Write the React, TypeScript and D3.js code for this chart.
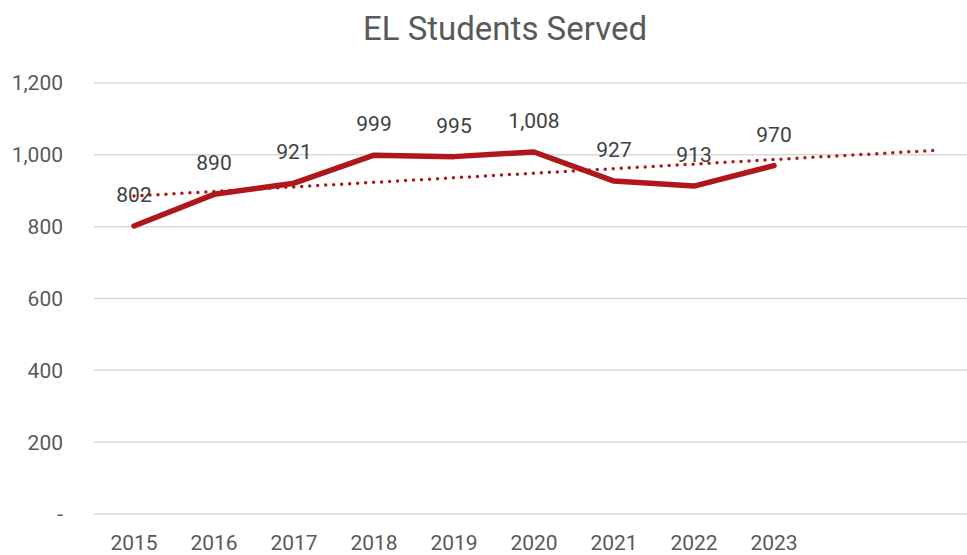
import { useEffect, useRef } from "react";
import * as d3 from "d3";

const years = ["2015", "2016", "2017", "2018", "2019", "2020", "2021", "2022", "2023", "", " "];
const students = [802, 890, 921, 999, 995, 1008, 927, 913, 970];
const yTicks = [0, 200, 400, 600, 800, 1000, 1200];

const RED = "#B0171B";
const TEXT = "#404040";
const AXIS_TEXT = "#595959";
const FONT = "Roboto, 'Open Sans', sans-serif";

export default function App() {
  const ref = useRef<SVGSVGElement>(null);

  useEffect(() => {
    const width = 967;
    const height = 555;
    const margin = { top: 83, right: -7, bottom: 41, left: 94 };
    const innerWidth = width - margin.left - margin.right;
    const innerHeight = height - margin.top - margin.bottom;

    const svg = d3.select(ref.current);
    svg.selectAll("*").remove();

    svg
      .append("text")
      .attr("x", 505)
      .attr("y", 40)
      .attr("text-anchor", "middle")
      .attr("font-family", FONT)
      .attr("font-size", 33)
      .attr("fill", AXIS_TEXT)
      .text("EL Students Served");

    const g = svg
      .append("g")
      .attr("transform", `translate(${margin.left},${margin.top})`);

    const x = d3.scaleBand().domain(years).range([0, innerWidth]);
    const y = d3.scaleLinear().domain([0, 1200]).range([innerHeight, 0]);
    const cx = (i: number) => (x(years[i]) ?? 0) + x.bandwidth() / 2;

    // gridlines
    g.selectAll("line.grid")
      .data(yTicks)
      .join("line")
      .attr("class", "grid")
      .attr("x1", 0)
      .attr("x2", innerWidth)
      .attr("y1", (d) => y(d))
      .attr("y2", (d) => y(d))
      .attr("stroke", "#D9D9D9")
      .attr("stroke-width", 1.5);

    // y labels
    g.selectAll("text.ytick")
      .data(yTicks)
      .join("text")
      .attr("class", "ytick")
      .attr("x", -31)
      .attr("y", (d) => y(d))
      .attr("dy", "0.35em")
      .attr("text-anchor", "end")
      .attr("font-family", FONT)
      .attr("font-size", 21)
      .attr("fill", AXIS_TEXT)
      .text((d) => (d === 0 ? "-" : d3.format(",")(d)));

    // x labels
    g.selectAll("text.xtick")
      .data(years)
      .join("text")
      .attr("class", "xtick")
      .attr("x", (_, i) => cx(i))
      .attr("y", innerHeight + 36)
      .attr("text-anchor", "middle")
      .attr("font-family", FONT)
      .attr("font-size", 21)
      .attr("fill", AXIS_TEXT)
      .text((d) => d.trim());

    // linear trendline, forecast forward 2 periods
    const n = students.length;
    const mx = d3.mean(students, (_, i) => i + 1) as number;
    const my = d3.mean(students) as number;
    const slope =
      d3.sum(students, (v, i) => (i + 1 - mx) * (v - my)) /
      d3.sum(students, (_, i) => (i + 1 - mx) ** 2);
    const trend = (t: number) => my + slope * (t - mx);
    const trendPts: [number, number][] = [
      [cx(0), y(trend(1))],
      [cx(n + 1), y(trend(n + 2))],
    ];
    g.append("path")
      .attr("d", d3.line()(trendPts))
      .attr("fill", "none")
      .attr("stroke", RED)
      .attr("stroke-width", 3.5)
      .attr("stroke-linecap", "round")
      .attr("stroke-dasharray", "0 8");

    const line = d3
      .line<number>()
      .x((_, i) => cx(i))
      .y((d) => y(d));

    g.append("path")
      .datum(students)
      .attr("d", line)
      .attr("fill", "none")
      .attr("stroke", RED)
      .attr("stroke-width", 5.5)
      .attr("stroke-linejoin", "round")
      .attr("stroke-linecap", "round");

    g.selectAll("text.label")
      .data(students)
      .join("text")
      .attr("class", "label")
      .attr("x", (_, i) => cx(i))
      .attr("y", (d) => y(d) - 24)
      .attr("text-anchor", "middle")
      .attr("font-family", FONT)
      .attr("font-size", 21)
      .attr("fill", TEXT)
      .text((d) => d3.format(",")(d));
  }, []);

  return (
    <svg
      ref={ref}
      width={967}
      height={555}
      style={{ position: "absolute", left: 0, top: 0, background: "#fff" }}
    />
  );
}
